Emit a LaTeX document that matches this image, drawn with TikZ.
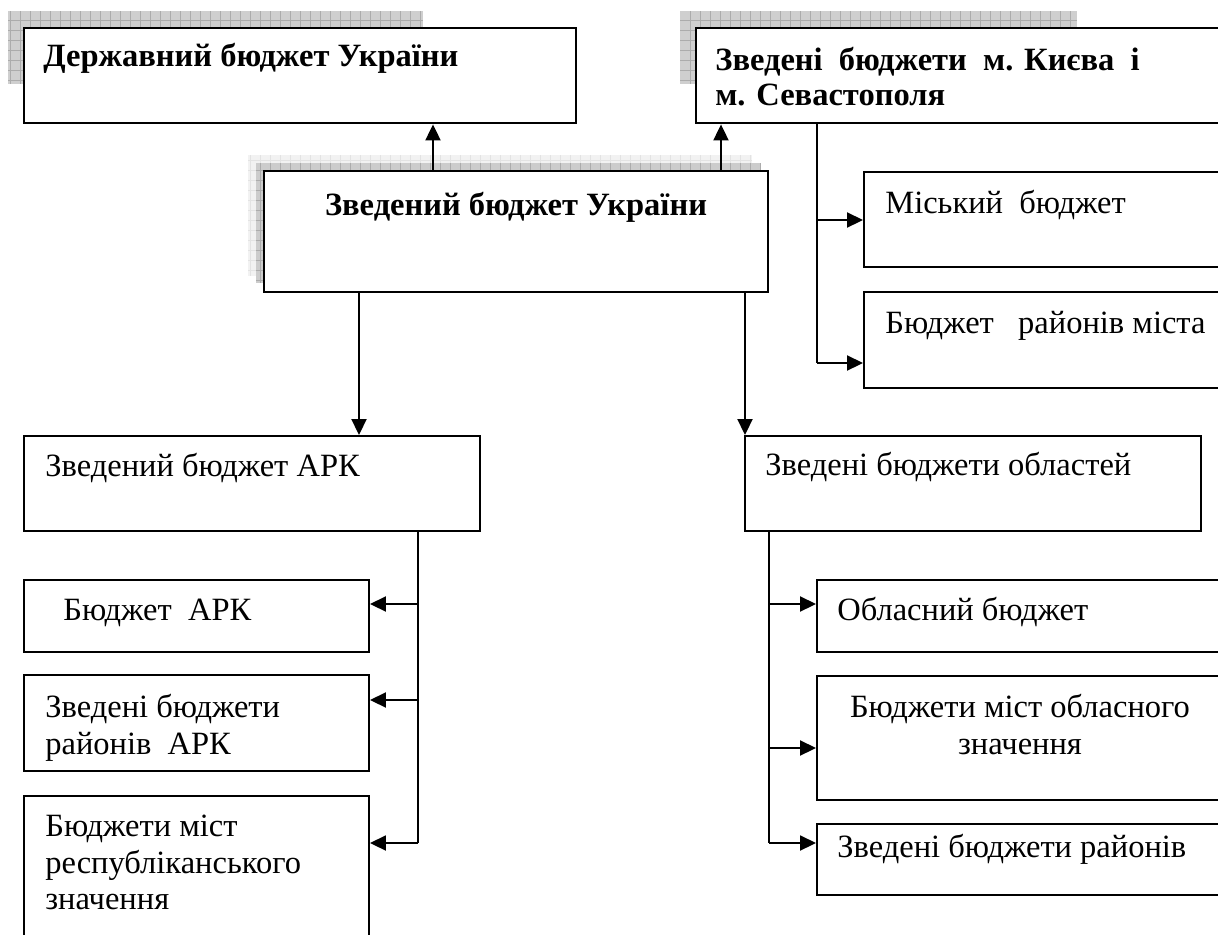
\documentclass[tikz,border=0pt]{standalone}
\usepackage{fontspec}
\setmainfont{Liberation Serif}
\usetikzlibrary{arrows.meta,fit}

\begin{document}
\begin{tikzpicture}[x=0.02cm,y=-0.02cm,
  box/.style={draw,line width=1.1pt,fill=white,inner sep=0pt,fit={#1}},
  mainbox/.style={box={#1},line width=1.6pt},
  txt/.style={inner sep=0pt,align=left,font=\fontsize{18.5}{20.8}\selectfont},
  btxt/.style={txt,font=\fontsize{18.5}{19.8}\selectfont\bfseries},
  ln/.style={line width=1.1pt},
  arr/.style={line width=1.1pt,-{Triangle[length=3.2mm,width=3mm]}}]
\clip (0,0) rectangle (1218,934);
%
\fill[gray!38] (8,11) rectangle (423,84);
\draw[gray!65,line width=0.3pt,step=2mm] (8,84) grid (423,11);
\fill[gray!38] (680,11) rectangle (1077,84);
\draw[gray!65,line width=0.3pt,step=2mm] (680,84) grid (1077,11);
\fill[gray!10] (248,155) rectangle (752,276);
\draw[gray!22,line width=0.3pt,step=2mm] (248,276) grid (752,155);
\fill[gray!40] (256,163) rectangle (760,283);
\draw[gray!65,line width=0.3pt,step=2mm] (256,283) grid (760,163);
%
\node[mainbox={(24,28) (576,123)}] (derzh) {};
\node[btxt,anchor=base west] (derzh-t) at (43,66) {Державний бюджет України};
\node[mainbox={(696,28) (1240,123)}] (kyiv) {};
\node[btxt,anchor=north west] (kyiv-t) at (715,47) {Зведені\ \ бюджети\ \ м. Києва\ \ і\\м. Севастополя};
\node[mainbox={(264,171) (768,292)}] (zved) {};
\node[btxt,anchor=base] (zved-t) at (516,215) {Зведений бюджет України};
%
\node[box={(864,172) (1240,267)}] (misk) {};
\node[txt,anchor=base west] (misk-t) at (885,213) {Міський\ \ бюджет};
\node[box={(864,292) (1240,388)}] (rayon) {};
\node[txt,anchor=base west] (rayon-t) at (885,333) {Бюджет\ \ \ районів міста};
%
\node[box={(24,436) (480,531)}] (ark) {};
\node[txt,anchor=base west] (ark-t) at (45,476) {Зведений бюджет АРК};
\node[box={(24,580) (369,652)}] (barc) {};
\node[txt,anchor=base west] (barc-t) at (63,620) {Бюджет\ \ АРК};
\node[box={(24,675) (369,771)}] (rarc) {};
\node[txt,anchor=north west] (rarc-t) at (45,694) {Зведені бюджети\\районів\ \ АРК};
\node[box={(24,796) (369,960)}] (marc) {};
\node[txt,anchor=north west] (marc-t) at (45,815) {Бюджети міст\\республіканського\\значення};
%
\node[box={(745,436) (1201,531)}] (obl) {};
\node[txt,anchor=base west] (obl-t) at (765,475) {Зведені бюджети областей};
\node[box={(817,580) (1240,652)}] (oblb) {};
\node[txt,anchor=base west] (oblb-t) at (837,620) {Обласний бюджет};
\node[box={(817,676) (1240,800)}] (mist) {};
\node[txt,align=center,anchor=north] (mist-t) at (1020,694) {Бюджети міст обласного\\значення};
\node[box={(817,824) (1240,895)}] (rayb) {};
\node[txt,anchor=base west] (rayb-t) at (837,857) {Зведені бюджети районів};
%
\coordinate (u1) at (433,0);
\coordinate (u2) at (721,0);
\coordinate (d1) at (359,0);
\coordinate (d2) at (745,0);
\draw[arr] (zved.north -| u1) -- (derzh.south -| u1);
\draw[arr] (zved.north -| u2) -- (kyiv.south -| u2);
\draw[arr] (zved.south -| d1) -- (ark.north -| d1);
\draw[arr] (zved.south -| d2) -- (obl.north -| d2);
%
\coordinate (k1) at (817,220);
\coordinate (k2) at (817,363);
\draw[ln] (kyiv.south -| k2) -- (k2);
\draw[arr] (k1) -- (k1 -| misk.west);
\draw[arr] (k2) -- (k2 -| rayon.west);
%
\coordinate (a1) at (418,604);
\coordinate (a2) at (418,700);
\coordinate (a3) at (418,843);
\draw[ln] (ark.south -| a3) -- (a3);
\draw[arr] (a1) -- (a1 -| barc.east);
\draw[arr] (a2) -- (a2 -| rarc.east);
\draw[arr] (a3) -- (a3 -| marc.east);
%
\coordinate (o1) at (769,604);
\coordinate (o2) at (769,748);
\coordinate (o3) at (769,843);
\draw[ln] (obl.south -| o3) -- (o3);
\draw[arr] (o1) -- (o1 -| oblb.west);
\draw[arr] (o2) -- (o2 -| mist.west);
\draw[arr] (o3) -- (o3 -| rayb.west);
\end{tikzpicture}
\end{document}
